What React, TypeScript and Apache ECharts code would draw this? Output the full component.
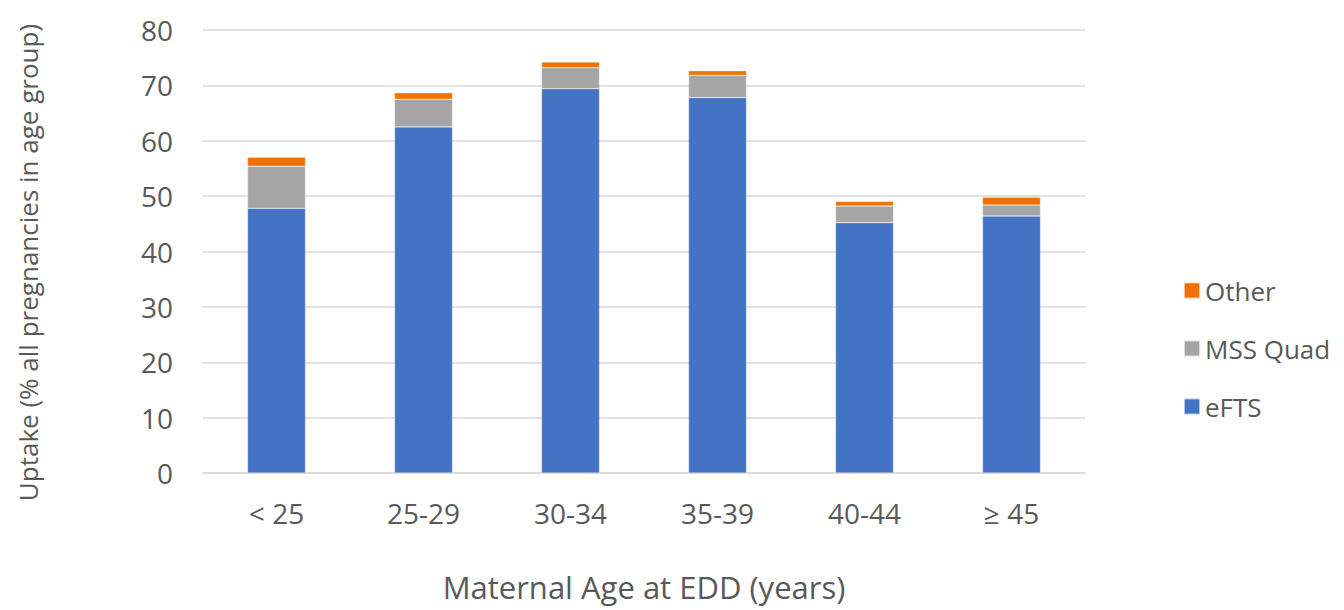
import React, { useEffect, useRef } from "react";
import * as echarts from "echarts";

const categories = ["< 25", "25-29", "30-34", "35-39", "40-44", "≥ 45"];
const eftsValues = [47.8, 62.5, 69.4, 67.8, 45.2, 46.4];
const mssQuadValues = [7.6, 5.0, 3.8, 4.0, 3.0, 2.0];
const otherValues = [1.6, 1.15, 1.0, 0.85, 0.85, 1.4];
const yTicks = { min: 0, max: 80, interval: 10 };

const FONT = "'Open Sans', 'Liberation Sans', sans-serif";
const TEXT = "#595959";

export default function App() {
  const ref = useRef<HTMLDivElement>(null);

  useEffect(() => {
    if (!ref.current) return;
    const chart = echarts.init(ref.current, undefined, { renderer: "svg" });
    const seg = (name: string, data: number[], color: string) => ({
      name,
      type: "bar",
      stack: "uptake",
      data,
      barWidth: 58,
      itemStyle: { color, borderColor: "rgba(255,255,255,0.6)", borderWidth: 0.5 },
    });
    chart.setOption({
      animation: false,
      textStyle: { fontFamily: FONT, color: TEXT },
      grid: {
        left: 203,
        right: 259,
        top: 30,
        bottom: 137,
        containLabel: false,
        outerBoundsMode: "none",
      },
      legend: {
        orient: "vertical",
        left: 1178,
        top: 269,
        data: ["Other", "MSS Quad", "eFTS"],
        icon: "rect",
        itemWidth: 16,
        itemHeight: 16,
        itemGap: 25,
        textStyle: { fontFamily: FONT, fontSize: 26, color: TEXT, lineHeight: 33, padding: [0, 0, 0, 0] },
      },
      xAxis: {
        type: "category",
        data: categories,
        name: "Maternal Age at EDD (years)",
        nameLocation: "middle",
        nameGap: 98,
        nameTextStyle: { fontFamily: FONT, fontSize: 31, color: TEXT, lineHeight: 31 },
        axisLine: { show: true, lineStyle: { color: "#D9D9D9", width: 1.5 } },
        axisTick: { show: false },
        axisLabel: { fontFamily: FONT, fontSize: 28, color: TEXT, margin: 26 },
      },
      yAxis: {
        type: "value",
        min: yTicks.min,
        max: yTicks.max,
        interval: yTicks.interval,
        name: "Uptake (% all pregnancies in age group)",
        nameLocation: "middle",
        nameGap: 162,
        nameTextStyle: { fontFamily: FONT, fontSize: 26, color: TEXT, padding: [0, 22, 0, 0] },
        axisLine: { show: false },
        axisTick: { show: false },
        axisLabel: { fontFamily: FONT, fontSize: 28, color: TEXT, margin: 30 },
        splitLine: { lineStyle: { color: "#D9D9D9", width: 1.5 } },
      },
      series: [
        seg("eFTS", eftsValues, "#4472C4"),
        seg("MSS Quad", mssQuadValues, "#A5A5A5"),
        seg("Other", otherValues, "#F07000"),
      ],
    });
    return () => chart.dispose();
  }, []);

  return (
    <div
      ref={ref}
      style={{ position: "fixed", left: 0, top: 0, width: 1344, height: 610, background: "#fff" }}
    />
  );
}
